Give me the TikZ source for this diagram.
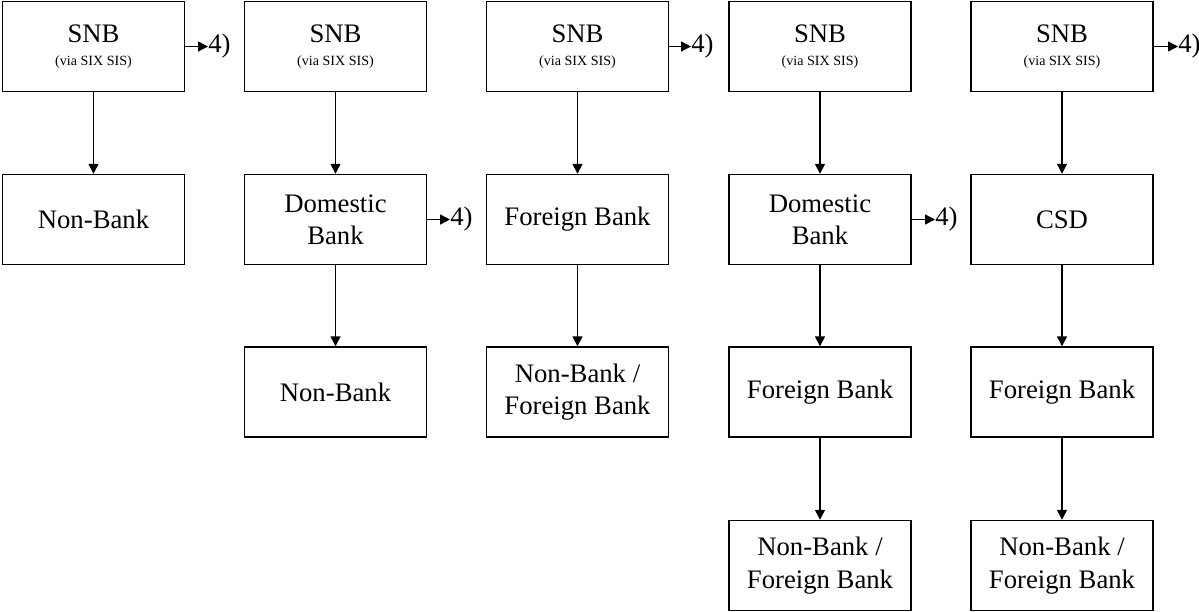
\documentclass[tikz,border=0pt]{standalone}
\usepackage{fontspec}
\setmainfont{Liberation Serif}
\usetikzlibrary{arrows.meta}

\begin{document}
\begin{tikzpicture}[x = 0.025cm, y = 0.025cm]
\tikzstyle{BoxStyle}=[shape = rectangle,
                      minimum width = 4.55cm,
                      minimum height = 2.25cm,
                      line width = 1pt,
                      align = center,
                      font = \fontsize{19}{23}\selectfont,
                      draw]
\tikzstyle{FlowStyle}=[-{Triangle[length = 7pt, width = 7pt]}, line width = 1pt]
\tikzstyle{RefStyle}=[inner sep = 0pt, anchor = west,
                      font = \fontsize{19}{23}\selectfont]
\newcommand{\snbtext}{SNB\\[-7pt]{\fontsize{10}{12}\selectfont (via SIX SIS)}}

\useasboundingbox (0,0) rectangle (1199,-612);

% column 1
\node[BoxStyle] (snbA) at (93.5,-46.5) {\snbtext};
\node[BoxStyle] (nbA) at (93.5,-219.5) {Non-Bank};
\node[RefStyle] (refA) at (208,-46.5) {4)};
% column 2
\node[BoxStyle] (snbB) at (335.5,-46.5) {\snbtext};
\node[BoxStyle] (dbB) at (335.5,-219.5) {Domestic\\Bank};
\node[BoxStyle] (nbB) at (335.5,-392) {Non-Bank};
\node[RefStyle] (refB) at (450,-219.5) {4)};
% column 3
\node[BoxStyle] (snbC) at (577.5,-46.5) {\snbtext};
\node[BoxStyle] (fbC) at (577.5,-219.5) {Foreign Bank};
\node[BoxStyle] (nbC) at (577.5,-392) {Non-Bank /\\Foreign Bank};
\node[RefStyle] (refC) at (691,-46.5) {4)};
% column 4
\node[BoxStyle] (snbD) at (820,-46.5) {\snbtext};
\node[BoxStyle] (dbD) at (820,-219.5) {Domestic\\Bank};
\node[BoxStyle] (fbD) at (820,-392) {Foreign Bank};
\node[BoxStyle] (nbD) at (820,-565.5) {Non-Bank /\\Foreign Bank};
\node[RefStyle] (refD) at (935,-219.5) {4)};
% column 5
\node[BoxStyle] (snbE) at (1062,-46.5) {\snbtext};
\node[BoxStyle] (csdE) at (1062,-219.5) {CSD};
\node[BoxStyle] (fbE) at (1062,-392) {Foreign Bank};
\node[BoxStyle] (nbE) at (1062,-565.5) {Non-Bank /\\Foreign Bank};
\node[RefStyle] (refE) at (1178,-46.5) {4)};

\draw[FlowStyle] (snbA) -- (nbA);
\draw[FlowStyle] (snbB) -- (dbB);
\draw[FlowStyle] (dbB) -- (nbB);
\draw[FlowStyle] (snbC) -- (fbC);
\draw[FlowStyle] (fbC) -- (nbC);
\draw[FlowStyle] (snbD) -- (dbD);
\draw[FlowStyle] (dbD) -- (fbD);
\draw[FlowStyle] (fbD) -- (nbD);
\draw[FlowStyle] (snbE) -- (csdE);
\draw[FlowStyle] (csdE) -- (fbE);
\draw[FlowStyle] (fbE) -- (nbE);

\draw[FlowStyle] (snbA) -- (refA);
\draw[FlowStyle] (dbB) -- (refB);
\draw[FlowStyle] (snbC) -- (refC);
\draw[FlowStyle] (dbD) -- (refD);
\draw[FlowStyle] (snbE) -- (refE);
\end{tikzpicture}
\end{document}
